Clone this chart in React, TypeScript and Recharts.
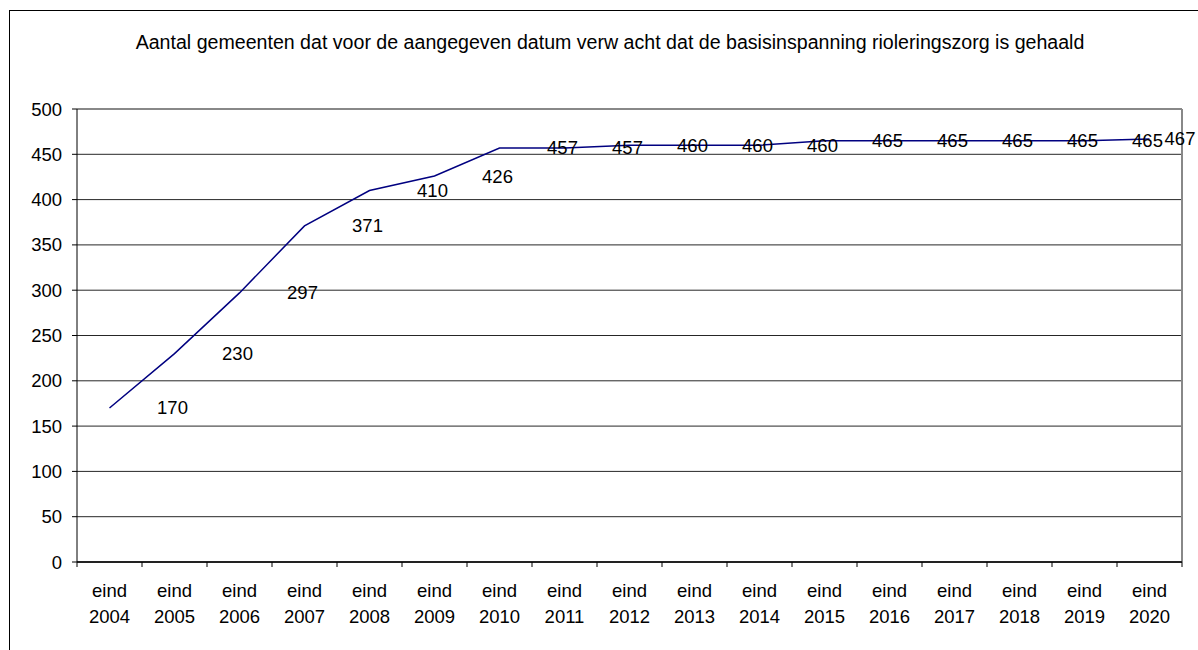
import { LineChart, Line, XAxis, YAxis, CartesianGrid, LabelList, ReferenceLine } from "recharts";

const years: string[] = [
  "2004", "2005", "2006", "2007", "2008", "2009", "2010", "2011", "2012",
  "2013", "2014", "2015", "2016", "2017", "2018", "2019", "2020",
];

const counts: number[] = [
  170, 230, 297, 371, 410, 426, 457, 457, 460, 460, 460, 465, 465, 465, 465, 465, 467,
];

const yTicks: number[] = [0, 50, 100, 150, 200, 250, 300, 350, 400, 450, 500];

const title =
  "Aantal gemeenten dat voor de aangegeven datum verw acht dat de basisinspanning rioleringszorg is gehaald";

const data = years.map((y, i) => ({ name: "eind " + y, value: counts[i] }));

const FONT = "Arial, 'Liberation Sans', sans-serif";
const FS = 18.5;
const W = 1188;
const H = 640;
const PLOT_LEFT = 67;
const PLOT_RIGHT = 1172;
const HALF = (PLOT_RIGHT - PLOT_LEFT) / years.length / 2;

const XTick = (props: any) => {
  const { x, y, payload, index } = props;
  const parts = String(payload.value).split(" ");
  const axisY = y - 8;
  return (
    <g>
      <line x1={x - HALF} y1={axisY} x2={x - HALF} y2={axisY + 5} stroke="#000" />
      {index === years.length - 1 && (
        <line x1={x + HALF} y1={axisY} x2={x + HALF} y2={axisY + 5} stroke="#000" />
      )}
      <text x={x} y={axisY + 35} textAnchor="middle" fontSize={FS} fontFamily={FONT} fill="#000">
        {parts[0]}
      </text>
      <text x={x} y={axisY + 61} textAnchor="middle" fontSize={FS} fontFamily={FONT} fill="#000">
        {parts[1]}
      </text>
    </g>
  );
};

const renderValue = (props: any) => {
  const { x, y, value } = props;
  const lx = Math.min(Number(x) + 63, PLOT_RIGHT - 2);
  return (
    <text
      x={lx}
      y={Number(y)}
      textAnchor="middle"
      dominantBaseline="central"
      fontSize={FS}
      fontFamily={FONT}
      fill="#000"
    >
      {value}
    </text>
  );
};

export default function App() {
  return (
    <div
      style={{
        position: "fixed",
        left: 0,
        top: 0,
        width: 1198,
        height: 650,
        overflow: "hidden",
        background: "#fff",
      }}
    >
      <div
        style={{
          position: "absolute",
          left: 9,
          top: 10,
          width: 1210,
          height: 700,
          border: "1px solid #000",
          background: "#fff",
          fontFamily: FONT,
        }}
      >
        <div
          style={{
            position: "absolute",
            top: 19,
            left: 6,
            width: W,
            textAlign: "center",
            fontSize: 19.6,
            lineHeight: "24px",
            color: "#000",
          }}
        >
          {title}
        </div>
        <LineChart
          width={W}
          height={H}
          data={data}
          margin={{ top: 98, right: 16, left: 0, bottom: 29 }}
        >
          <CartesianGrid vertical={false} stroke="#000" strokeOpacity={0.85} />
          {/* plot-area border on the right, gray like Excel */}
          <CartesianGrid
            horizontal={false}
            stroke="#888"
            strokeWidth={2}
            verticalCoordinatesGenerator={({ offset }: any) => [offset.left + offset.width]}
          />
          <XAxis
            dataKey="name"
            interval={0}
            height={60}
            padding={{ left: HALF, right: HALF }}
            axisLine={{ stroke: "#222", strokeWidth: 2 }}
            tickLine={false}
            tick={<XTick />}
          />
          <YAxis
            width={67}
            domain={[0, 500]}
            ticks={yTicks}
            interval={0}
            tickSize={5}
            tickMargin={10}
            axisLine={{ stroke: "#000" }}
            tickLine={{ stroke: "#000" }}
            tick={{ fontSize: FS, fontFamily: FONT, fill: "#000" }}
          />
          <ReferenceLine y={500} stroke="#888" strokeWidth={2} />
          <Line
            type="linear"
            dataKey="value"
            stroke="#000080"
            strokeWidth={1.5}
            dot={false}
            activeDot={false}
            isAnimationActive={false}
          >
            <LabelList dataKey="value" content={renderValue} />
          </Line>
        </LineChart>
      </div>
    </div>
  );
}
